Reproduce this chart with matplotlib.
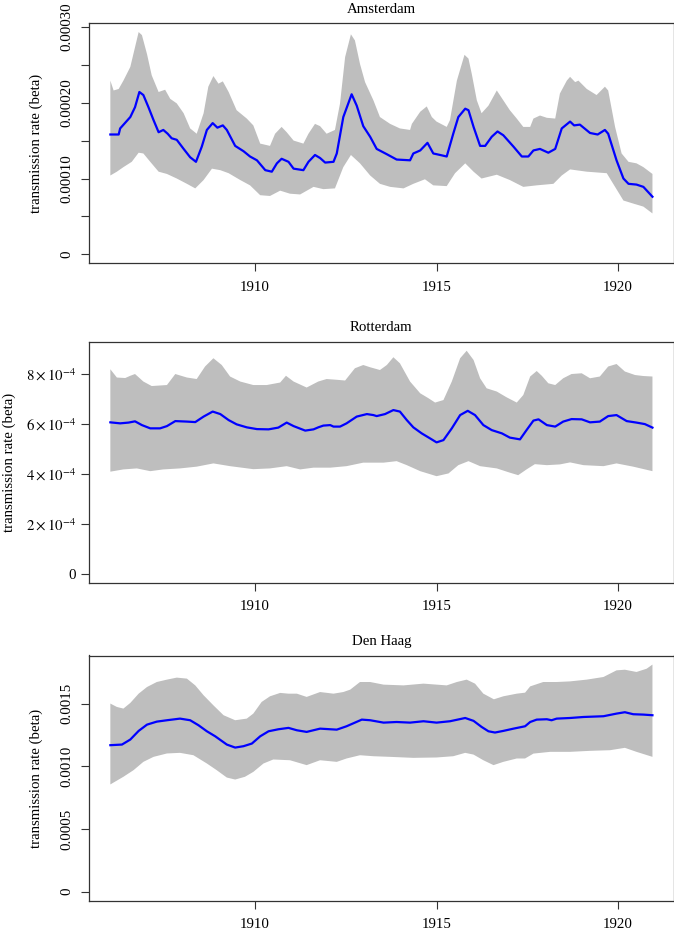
import matplotlib.pyplot as plt
import numpy as np

plt.rcParams["font.family"] = ["Liberation Serif", "DejaVu Serif"]
plt.rcParams["mathtext.fontset"] = "stix"
plt.rcParams["font.size"] = 10.7

# Amsterdam, beta in units of 1e-4: (year, value)
AMS_MEAN = [
    (1906.01, 1.58), (1906.24, 1.58), (1906.28, 1.66), (1906.56, 1.81), (1906.69, 1.94),
    (1906.81, 2.14), (1906.92, 2.10), (1907.06, 1.94), (1907.20, 1.77), (1907.34, 1.61),
    (1907.47, 1.64), (1907.59, 1.59), (1907.70, 1.53), (1907.84, 1.51), (1908.03, 1.39),
    (1908.21, 1.28), (1908.37, 1.22), (1908.53, 1.42), (1908.67, 1.64), (1908.83, 1.73),
    (1908.96, 1.67), (1909.11, 1.70), (1909.22, 1.64), (1909.45, 1.43), (1909.68, 1.36),
    (1909.86, 1.29), (1910.05, 1.24), (1910.28, 1.11), (1910.46, 1.09), (1910.60, 1.20),
    (1910.73, 1.26), (1910.92, 1.22), (1911.06, 1.13), (1911.33, 1.11), (1911.47, 1.22),
    (1911.65, 1.31), (1911.79, 1.27), (1911.93, 1.21), (1912.16, 1.22), (1912.25, 1.33),
    (1912.43, 1.81), (1912.66, 2.11), (1912.80, 1.96), (1912.98, 1.69), (1913.17, 1.55),
    (1913.35, 1.39), (1913.63, 1.32), (1913.90, 1.25), (1914.27, 1.24), (1914.36, 1.33),
    (1914.55, 1.37), (1914.75, 1.47), (1914.91, 1.33), (1915.10, 1.31), (1915.28, 1.29),
    (1915.46, 1.59), (1915.60, 1.81), (1915.79, 1.92), (1915.88, 1.90), (1916.02, 1.68),
    (1916.20, 1.43), (1916.34, 1.43), (1916.52, 1.55), (1916.68, 1.62), (1916.84, 1.57),
    (1917.12, 1.42), (1917.35, 1.29), (1917.53, 1.29), (1917.67, 1.37), (1917.85, 1.39),
    (1918.08, 1.34), (1918.27, 1.39), (1918.45, 1.66), (1918.68, 1.75), (1918.79, 1.70),
    (1918.95, 1.71), (1919.23, 1.60), (1919.44, 1.58), (1919.64, 1.64), (1919.73, 1.59),
    (1919.96, 1.24), (1920.15, 1.00), (1920.29, 0.93), (1920.51, 0.92), (1920.70, 0.89),
    (1920.95, 0.76),
]
AMS_UPPER = [
    (1906.01, 2.29), (1906.10, 2.16), (1906.24, 2.18), (1906.37, 2.29), (1906.56, 2.47),
    (1906.69, 2.73), (1906.79, 2.93), (1906.88, 2.89), (1907.02, 2.64), (1907.15, 2.36),
    (1907.34, 2.14), (1907.52, 2.17), (1907.66, 2.05), (1907.84, 1.99), (1908.03, 1.86),
    (1908.21, 1.66), (1908.39, 1.59), (1908.58, 1.86), (1908.71, 2.21), (1908.85, 2.35),
    (1908.99, 2.25), (1909.11, 2.28), (1909.27, 2.14), (1909.49, 1.90), (1909.77, 1.79),
    (1909.95, 1.70), (1910.14, 1.46), (1910.41, 1.43), (1910.55, 1.59), (1910.73, 1.68),
    (1910.87, 1.61), (1911.06, 1.50), (1911.33, 1.46), (1911.47, 1.59), (1911.65, 1.72),
    (1911.79, 1.69), (1911.97, 1.59), (1912.20, 1.64), (1912.34, 1.99), (1912.48, 2.60),
    (1912.64, 2.90), (1912.75, 2.82), (1912.89, 2.51), (1913.03, 2.27), (1913.26, 2.03),
    (1913.44, 1.81), (1913.72, 1.72), (1913.99, 1.66), (1914.27, 1.64), (1914.32, 1.72),
    (1914.55, 1.88), (1914.73, 1.95), (1914.87, 1.81), (1915.00, 1.75), (1915.28, 1.68),
    (1915.37, 1.77), (1915.56, 2.29), (1915.77, 2.63), (1915.88, 2.58), (1915.97, 2.38),
    (1916.11, 2.03), (1916.24, 1.86), (1916.43, 1.96), (1916.66, 2.16), (1916.84, 2.03),
    (1917.02, 1.90), (1917.21, 1.79), (1917.39, 1.68), (1917.58, 1.68), (1917.67, 1.79),
    (1917.85, 1.83), (1918.04, 1.80), (1918.27, 1.79), (1918.40, 2.12), (1918.59, 2.29),
    (1918.68, 2.34), (1918.82, 2.27), (1918.91, 2.29), (1919.14, 2.18), (1919.41, 2.10),
    (1919.64, 2.21), (1919.73, 2.16), (1919.92, 1.68), (1920.10, 1.33), (1920.29, 1.22),
    (1920.51, 1.20), (1920.70, 1.15), (1920.95, 1.06),
]
AMS_LOWER = [
    (1906.01, 1.04), (1906.19, 1.09), (1906.37, 1.15), (1906.60, 1.22), (1906.79, 1.34),
    (1906.92, 1.33), (1907.11, 1.22), (1907.34, 1.09), (1907.57, 1.06), (1907.84, 1.00),
    (1908.12, 0.93), (1908.35, 0.87), (1908.58, 0.98), (1908.81, 1.13), (1909.04, 1.11),
    (1909.27, 1.07), (1909.59, 0.98), (1909.86, 0.91), (1910.14, 0.78), (1910.41, 0.77),
    (1910.69, 0.84), (1910.96, 0.80), (1911.24, 0.79), (1911.61, 0.89), (1911.88, 0.86),
    (1912.20, 0.87), (1912.43, 1.15), (1912.64, 1.31), (1912.89, 1.20), (1913.17, 1.04),
    (1913.44, 0.93), (1913.72, 0.89), (1914.09, 0.87), (1914.36, 0.93), (1914.68, 0.99),
    (1914.91, 0.91), (1915.28, 0.90), (1915.51, 1.07), (1915.79, 1.20), (1916.02, 1.09),
    (1916.24, 1.00), (1916.66, 1.05), (1917.02, 0.98), (1917.39, 0.89), (1917.76, 0.91),
    (1918.22, 0.93), (1918.45, 1.04), (1918.68, 1.12), (1919.14, 1.09), (1919.69, 1.07),
    (1919.92, 0.89), (1920.15, 0.71), (1920.42, 0.67), (1920.70, 0.63), (1920.95, 0.54),
]

# Rotterdam, beta in units of 1e-4
ROT_MEAN = [
    (1906.01, 6.06), (1906.28, 6.02), (1906.51, 6.05), (1906.69, 6.10), (1906.88, 5.95),
    (1907.11, 5.82), (1907.38, 5.82), (1907.57, 5.91), (1907.80, 6.11), (1908.12, 6.09),
    (1908.35, 6.07), (1908.58, 6.29), (1908.83, 6.49), (1909.04, 6.39), (1909.27, 6.15),
    (1909.49, 5.98), (1909.77, 5.86), (1910.05, 5.79), (1910.37, 5.78), (1910.64, 5.85),
    (1910.87, 6.05), (1911.06, 5.91), (1911.38, 5.73), (1911.61, 5.78), (1911.74, 5.86),
    (1911.88, 5.93), (1912.07, 5.95), (1912.16, 5.89), (1912.34, 5.89), (1912.52, 6.02),
    (1912.80, 6.29), (1913.08, 6.39), (1913.26, 6.35), (1913.35, 6.31), (1913.58, 6.39),
    (1913.81, 6.55), (1913.99, 6.49), (1914.18, 6.15), (1914.36, 5.86), (1914.59, 5.62),
    (1914.82, 5.42), (1915.00, 5.26), (1915.19, 5.35), (1915.42, 5.82), (1915.65, 6.35),
    (1915.86, 6.52), (1916.06, 6.35), (1916.29, 5.95), (1916.52, 5.75), (1916.80, 5.62),
    (1917.02, 5.45), (1917.30, 5.38), (1917.48, 5.75), (1917.67, 6.13), (1917.81, 6.18),
    (1918.04, 5.95), (1918.27, 5.89), (1918.49, 6.09), (1918.72, 6.19), (1919.00, 6.18),
    (1919.23, 6.06), (1919.50, 6.09), (1919.73, 6.31), (1919.96, 6.35), (1920.24, 6.11),
    (1920.51, 6.05), (1920.74, 5.99), (1920.95, 5.85),
]
ROT_UPPER = [
    (1906.01, 8.18), (1906.19, 7.85), (1906.42, 7.83), (1906.56, 7.92), (1906.69, 7.99),
    (1906.92, 7.69), (1907.15, 7.51), (1907.57, 7.55), (1907.80, 7.99), (1908.12, 7.85),
    (1908.39, 7.79), (1908.62, 8.29), (1908.85, 8.62), (1909.08, 8.35), (1909.31, 7.89),
    (1909.59, 7.69), (1909.95, 7.55), (1910.32, 7.55), (1910.69, 7.65), (1910.85, 7.92),
    (1911.06, 7.69), (1911.42, 7.45), (1911.74, 7.69), (1911.97, 7.79), (1912.25, 7.76),
    (1912.48, 7.73), (1912.75, 8.22), (1912.98, 8.35), (1913.17, 8.26), (1913.44, 8.15),
    (1913.63, 8.35), (1913.81, 8.66), (1913.99, 8.42), (1914.27, 7.69), (1914.55, 7.22),
    (1914.78, 7.02), (1914.96, 6.85), (1915.19, 6.95), (1915.42, 7.69), (1915.65, 8.62),
    (1915.83, 8.92), (1916.02, 8.55), (1916.20, 7.82), (1916.38, 7.42), (1916.66, 7.29),
    (1916.93, 7.06), (1917.21, 6.85), (1917.39, 7.15), (1917.58, 7.89), (1917.76, 8.11),
    (1917.90, 7.92), (1918.08, 7.62), (1918.27, 7.55), (1918.49, 7.82), (1918.72, 7.99),
    (1919.00, 8.02), (1919.23, 7.82), (1919.50, 7.89), (1919.73, 8.29), (1919.96, 8.39),
    (1920.19, 8.09), (1920.47, 7.95), (1920.70, 7.91), (1920.95, 7.89),
]
ROT_LOWER = [
    (1906.01, 4.09), (1906.37, 4.18), (1906.74, 4.22), (1907.11, 4.11), (1907.47, 4.18),
    (1907.93, 4.22), (1908.39, 4.29), (1908.85, 4.42), (1909.31, 4.31), (1909.95, 4.19),
    (1910.41, 4.22), (1910.87, 4.31), (1911.24, 4.18), (1911.61, 4.25), (1912.07, 4.25),
    (1912.52, 4.31), (1912.98, 4.45), (1913.17, 4.45), (1913.54, 4.45), (1913.90, 4.51),
    (1914.18, 4.35), (1914.55, 4.11), (1915.00, 3.91), (1915.33, 4.02), (1915.60, 4.35),
    (1915.88, 4.51), (1916.20, 4.31), (1916.66, 4.22), (1917.02, 4.05), (1917.25, 3.95),
    (1917.48, 4.18), (1917.71, 4.39), (1918.04, 4.35), (1918.40, 4.38), (1918.68, 4.46),
    (1919.05, 4.35), (1919.60, 4.31), (1919.96, 4.42), (1920.42, 4.29), (1920.95, 4.11),
]

# Den Haag, beta in units of 1e-3
DH_MEAN = [
    (1906.01, 1.168), (1906.33, 1.173), (1906.56, 1.213), (1906.79, 1.282), (1907.02, 1.332),
    (1907.29, 1.356), (1907.57, 1.367), (1907.93, 1.380), (1908.21, 1.367), (1908.44, 1.327),
    (1908.67, 1.279), (1908.90, 1.239), (1909.22, 1.173), (1909.45, 1.149), (1909.68, 1.160),
    (1909.91, 1.181), (1910.14, 1.239), (1910.37, 1.279), (1910.64, 1.295), (1910.92, 1.306),
    (1911.15, 1.287), (1911.42, 1.274), (1911.79, 1.300), (1912.25, 1.292), (1912.52, 1.319),
    (1912.94, 1.372), (1913.17, 1.367), (1913.54, 1.348), (1913.90, 1.353), (1914.27, 1.348),
    (1914.64, 1.359), (1915.00, 1.348), (1915.37, 1.359), (1915.79, 1.385), (1916.02, 1.362),
    (1916.24, 1.314), (1916.43, 1.279), (1916.61, 1.269), (1916.84, 1.282), (1917.12, 1.300),
    (1917.44, 1.319), (1917.58, 1.353), (1917.76, 1.372), (1918.04, 1.375), (1918.17, 1.367),
    (1918.31, 1.380), (1918.68, 1.385), (1919.05, 1.393), (1919.60, 1.399), (1919.96, 1.420),
    (1920.19, 1.431), (1920.42, 1.415), (1920.70, 1.412), (1920.95, 1.407),
]
DH_UPPER = [
    (1906.01, 1.500), (1906.19, 1.473), (1906.37, 1.460), (1906.56, 1.505), (1906.79, 1.579),
    (1907.02, 1.632), (1907.29, 1.672), (1907.57, 1.691), (1907.84, 1.707), (1908.12, 1.699),
    (1908.35, 1.645), (1908.58, 1.566), (1908.85, 1.486), (1909.13, 1.407), (1909.45, 1.367),
    (1909.77, 1.380), (1909.95, 1.420), (1910.18, 1.513), (1910.41, 1.558), (1910.69, 1.585),
    (1910.92, 1.579), (1911.15, 1.579), (1911.42, 1.553), (1911.79, 1.592), (1912.16, 1.579),
    (1912.43, 1.592), (1912.62, 1.611), (1912.89, 1.672), (1913.17, 1.672), (1913.54, 1.651),
    (1914.09, 1.645), (1914.64, 1.659), (1915.28, 1.645), (1915.56, 1.672), (1915.83, 1.691),
    (1916.06, 1.659), (1916.29, 1.579), (1916.58, 1.534), (1916.84, 1.558), (1917.21, 1.579),
    (1917.44, 1.587), (1917.58, 1.637), (1917.94, 1.672), (1918.31, 1.672), (1918.68, 1.677),
    (1919.14, 1.691), (1919.60, 1.712), (1919.96, 1.765), (1920.19, 1.770), (1920.51, 1.752),
    (1920.79, 1.778), (1920.95, 1.811),
]
DH_LOWER = [
    (1906.01, 0.855), (1906.37, 0.916), (1906.65, 0.969), (1906.92, 1.035), (1907.20, 1.075),
    (1907.57, 1.102), (1907.93, 1.107), (1908.30, 1.088), (1908.67, 1.022), (1908.94, 0.969),
    (1909.22, 0.910), (1909.45, 0.894), (1909.72, 0.916), (1909.95, 0.955), (1910.23, 1.022),
    (1910.50, 1.054), (1910.96, 1.048), (1911.42, 1.009), (1911.79, 1.048), (1912.25, 1.035),
    (1912.52, 1.062), (1912.89, 1.088), (1913.26, 1.080), (1913.72, 1.075), (1914.36, 1.067),
    (1915.00, 1.070), (1915.46, 1.080), (1915.79, 1.107), (1916.02, 1.093), (1916.29, 1.048),
    (1916.57, 1.009), (1916.84, 1.035), (1917.21, 1.062), (1917.44, 1.062), (1917.67, 1.101),
    (1918.13, 1.115), (1918.68, 1.115), (1919.23, 1.123), (1919.78, 1.128), (1920.19, 1.147),
    (1920.51, 1.115), (1920.95, 1.075),
]

CITIES = ["Amsterdam", "Rotterdam", "Den Haag"]
X_TICKS = [1910, 1915, 1920]
YLABEL = "transmission rate (beta)"

W, H = 674, 932
EDGE = "#333333"


def box(left, top, right, bottom):
    return [left / W, 1 - bottom / H, (right - left) / W, (bottom - top) / H]


def draw(ax, title, mean, upper, lower, scale, ytop, yticks, ylabels, rotate, pad):
    up = np.array(upper).T
    lo = np.array(lower).T
    mn = np.array(mean).T
    ax.fill(np.concatenate([up[0], lo[0][::-1]]),
            np.concatenate([up[1], lo[1][::-1]]) * scale,
            color="#BEBEBE", lw=0)
    ax.plot(mn[0], mn[1] * scale, color="#0000FF", lw=1.6)

    ax.set_xlim(1905.43, 1921.53)
    ax.set_ylim(-0.04 * ytop, 1.04 * ytop)
    ax.set_xticks(X_TICKS)
    ax.set_xticklabels([str(t) for t in X_TICKS])
    ax.set_yticks(yticks)
    if rotate:
        ax.set_yticklabels(ylabels, rotation=90, va="center")
    else:
        ax.set_yticklabels(ylabels)
    ax.tick_params(direction="out", length=5.5, width=0.8, color=EDGE)
    ax.tick_params(axis="x", pad=7)
    ax.tick_params(axis="y", pad=pad)
    for s in ax.spines.values():
        s.set_color(EDGE)
        s.set_linewidth(0.9)
    ax.set_title(title, pad=7.5, fontsize=10.7)


fig = plt.figure(figsize=(W / 100, H / 100), dpi=100)
ax1 = fig.add_axes(box(89.3, 23.0, 673.5, 263.3))
ax2 = fig.add_axes(box(89.3, 341.7, 673.5, 583.0))
ax3 = fig.add_axes(box(89.3, 655.5, 673.5, 900.7))

draw(ax1, CITIES[0], AMS_MEAN, AMS_UPPER, AMS_LOWER, 1e-4, 2.932e-4,
     [0, 0.5e-4, 1e-4, 1.5e-4, 2e-4, 2.5e-4, 3e-4],
     ["0", "", "0.00010", "", "0.00020", "", "0.00030"], True, 6)
draw(ax2, CITIES[1], ROT_MEAN, ROT_UPPER, ROT_LOWER, 1e-4, 8.924e-4,
     [0, 2e-4, 4e-4, 6e-4, 8e-4],
     ["0", r"$2\times10^{-4}$", r"$4\times10^{-4}$", r"$6\times10^{-4}$", r"$8\times10^{-4}$"],
     False, 4)
draw(ax3, CITIES[2], DH_MEAN, DH_UPPER, DH_LOWER, 1e-3, 1.811e-3,
     [0, 0.5e-3, 1e-3, 1.5e-3],
     ["0", "0.0005", "0.0010", "0.0015"], True, 6)

fig.text(36 / W, 1 - 143 / H, YLABEL, rotation=90, ha="center", va="center")
fig.text(9 / W, 1 - 462 / H, YLABEL, rotation=90, ha="center", va="center")
fig.text(36 / W, 1 - 778 / H, YLABEL, rotation=90, ha="center", va="center")

fig.savefig("out.png", dpi=100)
